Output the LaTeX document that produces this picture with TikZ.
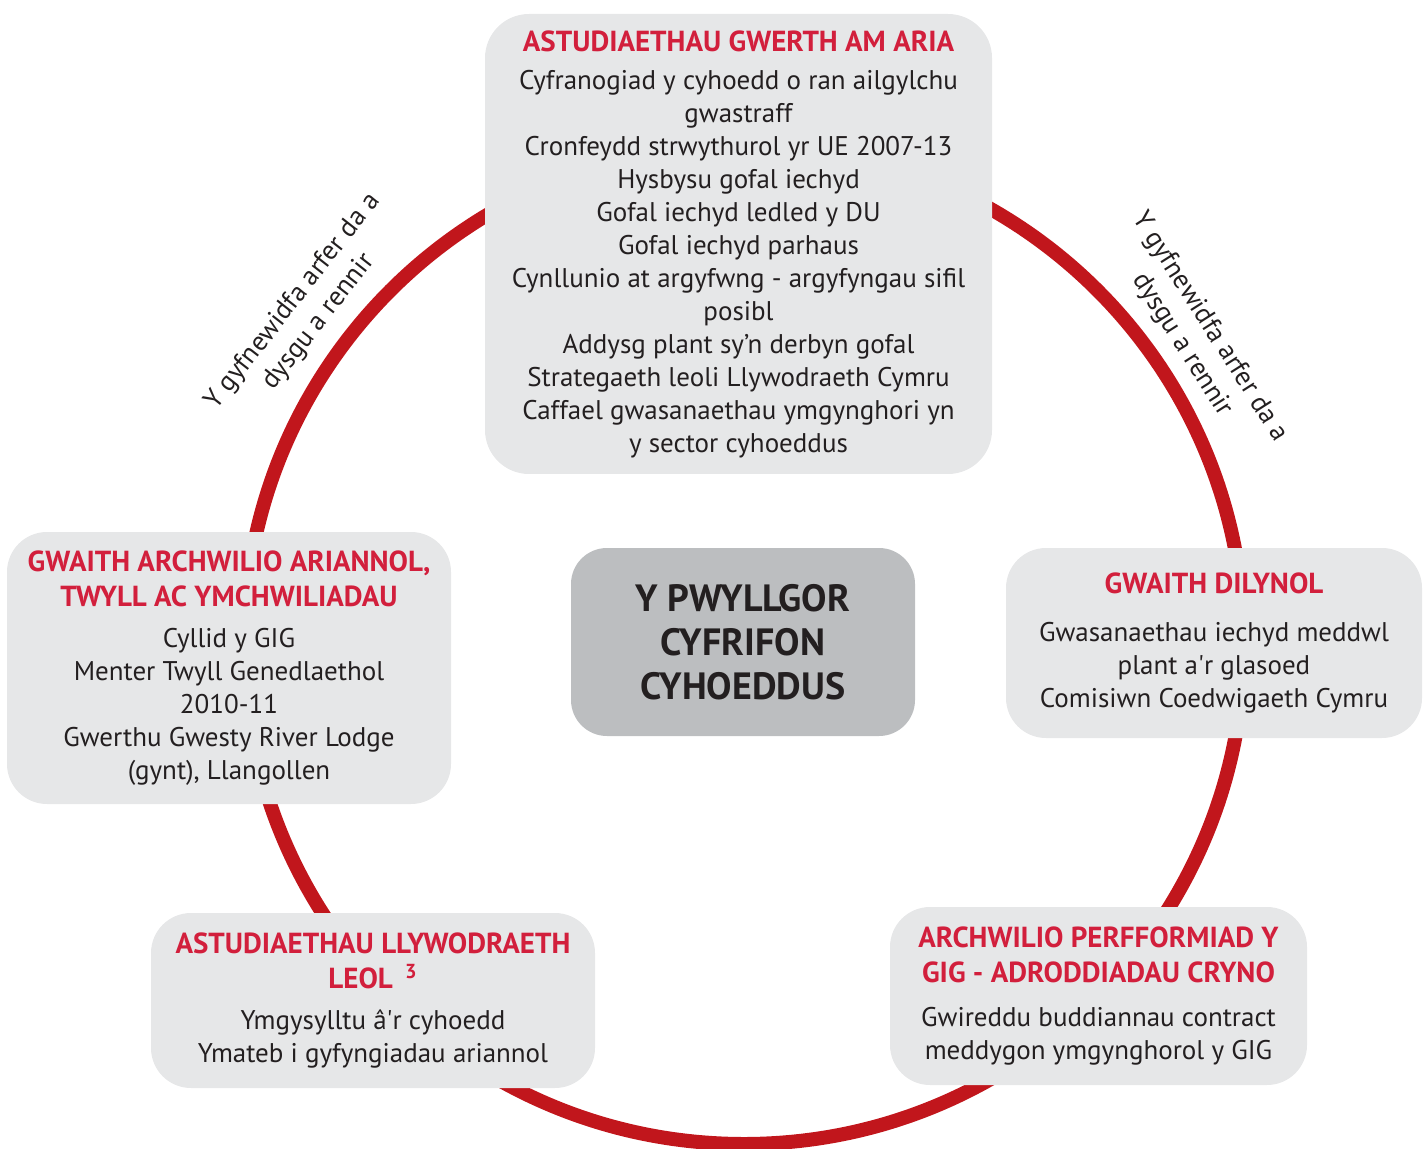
\documentclass[tikz,border=0pt]{standalone}
\usepackage{fontspec}
\setmainfont{PT Sans}
\definecolor{ringred}{HTML}{C1161C}
\definecolor{titlered}{HTML}{D21F3C}
\definecolor{panelgray}{HTML}{E6E7E8}
\definecolor{hubgray}{HTML}{BCBEC0}
\definecolor{inkdark}{HTML}{231F20}
\begin{document}
\begin{tikzpicture}[x=0.5pt,y=-0.5pt,
  panel/.style={fill=panelgray,rounded corners=20pt,inner sep=0pt,align=center,
    text=inkdark,font=\fontsize{13.5}{16.5}\selectfont},
  hub/.style={fill=hubgray,rounded corners=18pt,inner sep=0pt,align=center,
    text=inkdark,font=\fontsize{19}{22}\selectfont\bfseries},
  ringnote/.style={align=center,text=inkdark,font=\fontsize{13.5}{16.5}\selectfont}]
\useasboundingbox (0,0) rectangle (1428,1149);
\newcommand{\paneltitle}[1]{\textcolor{titlered}{\fontsize{14.5}{16.5}\selectfont\bfseries #1}}

% Ring
\draw[line width=7pt,ringred] (744,644) circle (500);

% Notes along the ring
\node[ringnote,rotate=52] (noteL) at (306,312) {Y gyfnewidfa arfer da a\\dysgu a rennir};
\node[ringnote,rotate=-57.5] (noteR) at (1196,336) {Y gyfnewidfa arfer da a\\dysgu a rennir};

% Centre
\node[hub,minimum width=172pt,minimum height=94pt] (pac) at (743,642)
  {Y PWYLLGOR\\CYFRIFON\\CYHOEDDUS};

% Top panel
\node[panel,minimum width=253.5pt,minimum height=230pt,rounded corners=22pt] (vfm) at (738.5,244)
  {\paneltitle{ASTUDIAETHAU GWERTH AM ARIA}\\[2.5pt]
   Cyfranogiad y cyhoedd o ran ailgylchu\\gwastraff\\
   Cronfeydd strwythurol yr UE 2007-13\\Hysbysu gofal iechyd\\
   Gofal iechyd ledled y DU\\Gofal iechyd parhaus\\
   Cynllunio at argyfwng - argyfyngau sifil\\posibl\\
   Addysg plant sy’n derbyn gofal\\Strategaeth leoli Llywodraeth Cymru\\
   Caffael gwasanaethau ymgynghori yn\\y sector cyhoeddus};

% Right panel
\node[panel,minimum width=208pt,minimum height=95pt] (follow) at (1214,643)
  {\paneltitle{GWAITH DILYNOL}\\[7.5pt]
   Gwasanaethau iechyd meddwl\\plant a\textquotesingle r glasoed\\Comisiwn Coedwigaeth Cymru};

% Bottom right panel
\node[panel,minimum width=208.5pt,minimum height=89pt] (nhs) at (1098.5,996)
  {\paneltitle{ARCHWILIO PERFFORMIAD Y}\\[1pt]\paneltitle{GIG - ADRODDIADAU CRYNO}\\[5.5pt]
   Gwireddu buddiannau contract\\meddygon ymgynghorol y GIG};

% Bottom left panel
\node[panel,minimum width=222pt,minimum height=87.5pt] (local) at (373,1000.5)
  {\paneltitle{ASTUDIAETHAU LLYWODRAETH}\\[1pt]\paneltitle{LEOL \,\textsuperscript{3}}\\[4pt]
   Ymgysylltu â\textquotesingle r cyhoedd\\Ymateb i gyfyngiadau ariannol};

% Left panel
\node[panel,minimum width=222pt,minimum height=136pt] (audit) at (229,668)
  {\paneltitle{GWAITH ARCHWILIO ARIANNOL,}\\[1pt]\paneltitle{TWYLL AC YMCHWILIADAU}\\[4pt]
   Cyllid y GIG\\Menter Twyll Genedlaethol\\2010-11\\
   Gwerthu Gwesty River Lodge\\(gynt), Llangollen};

\end{tikzpicture}
\end{document}
